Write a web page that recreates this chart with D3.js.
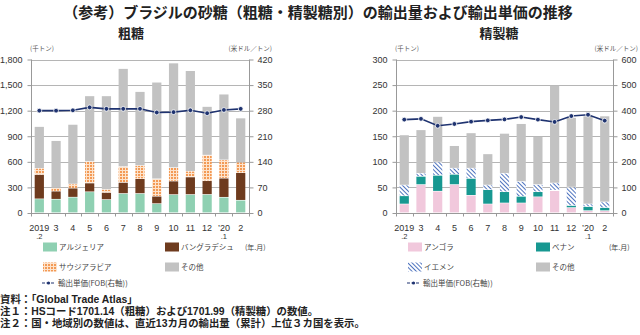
<!DOCTYPE html>
<html>
<head>
<meta charset="utf-8">
<script src="https://cdn.jsdelivr.net/npm/d3@7"></script>
<style>
  body { margin: 0; background: #fff; }
  svg text { font-family: "Liberation Sans", Arial, "Noto Sans CJK JP", sans-serif; fill: #333; }
  .jp { font-family: "Noto Sans CJK JP", sans-serif; }
  .note { font-family: "Liberation Sans", Arial, "Noto Sans CJK JP", sans-serif; }
</style>
</head>
<body>
<div id="chart"></div>
<script>
// months shown on the x axis
const months = ['2019', '3', '4', '5', '6', '7', '8', '9', '10', '11', '12', '\u201920', '2'];
const monthsSub = ['.2', '', '', '', '', '', '', '', '', '', '', '.1', ''];

// raw sugar (千トン)
const rawAlgeria    = [162, 158, 182, 245, 154, 225, 225, 106, 212, 213, 214, 181, 146];
const rawBangladesh = [285, 95, 106, 103, 83, 130, 174, 87, 159, 206, 161, 224, 323];
const rawSaudi      = [73, 39, 48, 252, 35, 186, 154, 204, 158, 67, 300, 214, 122];
const rawOther      = [490, 553, 699, 770, 1098, 1149, 867, 1133, 1226, 1179, 570, 771, 519];
const rawPrice      = [280, 280, 281, 289, 285, 285, 285, 275, 276, 281, 273, 282, 285];

// refined sugar (千トン)
const refAngola = [17, 55, 42, 55, 34, 17, 19, 19, 31, 43, 10, 4, 4];
const refBenin  = [16, 16, 31, 20, 33, 28, 22, 13, 10, 1, 4, 8, 6];
const refYemen  = [21, 6, 26, 12, 20, 9, 36, 29, 14, 14, 36, 5, 11];
const refOther  = [98, 85, 89, 44, 69, 61, 78, 113, 94, 191, 136, 172, 168];
const refPrice  = [365, 368, 341, 348, 357, 362, 366, 375, 365, 356, 379, 384, 361];

const leftTicks = [0, 300, 600, 900, 1200, 1500, 1800];
const rightTicks = [0, 70, 140, 210, 280, 350, 420];
const leftTicks2 = [0, 50, 100, 150, 200, 250, 300];
const rightTicks2 = [0, 100, 200, 300, 400, 500, 600];

const navy = '#1f3370';

const svg = d3.select('#chart').append('svg')
  .attr('width', 640)
  .attr('height', 335);

const defs = svg.append('defs');

// orange grid fill (サウジアラビア)
const pO = defs.append('pattern')
  .attr('id', 'pOrange')
  .attr('width', 3).attr('height', 3)
  .attr('patternUnits', 'userSpaceOnUse');
pO.append('rect').attr('width', 3).attr('height', 3).attr('fill', '#fde3cc');
pO.append('rect').attr('width', 2).attr('height', 2).attr('fill', '#f39a55');

// blue diagonal hatch (イエメン)
const pB = defs.append('pattern')
  .attr('id', 'pBlue')
  .attr('width', 3).attr('height', 3)
  .attr('patternUnits', 'userSpaceOnUse')
  .attr('patternTransform', 'rotate(-45)');
pB.append('rect').attr('width', 3).attr('height', 3).attr('fill', '#fff');
pB.append('line').attr('x1', 0.5).attr('y1', 0).attr('x2', 0.5).attr('y2', 3)
  .attr('stroke', '#4f74bf').attr('stroke-width', 1);

// main title
svg.append('text')
  .attr('class', 'jp')
  .attr('x', 318).attr('y', 18)
  .attr('text-anchor', 'middle')
  .style('font-size', '15px').style('font-weight', 'bold').style('fill', '#222')
  .text('（参考）ブラジルの砂糖（粗糖・精製糖別）の輸出量および輸出単価の推移');

function drawPanel(p) {
  const g = svg.append('g');
  const n = months.length;

  const x = d3.scaleBand()
    .domain(d3.range(n))
    .range([p.x0, p.x1])
    .paddingInner(0.45)
    .paddingOuter(0.22);
  const y = d3.scaleLinear().domain([0, p.yMax]).range([213, 59.5]);
  const y2 = d3.scaleLinear().domain([0, p.y2Max]).range([213, 59.5]);

  // subtitle
  g.append('text')
    .attr('class', 'jp')
    .attr('x', p.titleX).attr('y', 38)
    .attr('text-anchor', 'middle')
    .style('font-size', '13px').style('font-weight', 'bold').style('fill', '#222')
    .text(p.title);

  // unit labels
  g.append('text').attr('class', 'jp')
    .attr('x', p.x0 - 1).attr('y', 50.5)
    .style('font-size', '6.5px').style('fill', '#555')
    .text('(千トン)');
  g.append('text').attr('class', 'jp')
    .attr('x', p.unitREnd).attr('y', 50.5)
    .attr('text-anchor', 'end')
    .style('font-size', '6.5px').style('fill', '#555')
    .text('(米ドル／トン)');

  // gridlines
  g.append('g').selectAll('line')
    .data(p.lTicks.slice(1))
    .enter().append('line')
    .attr('x1', p.x0).attr('x2', p.x1)
    .attr('y1', d => Math.round(y(d)) + 0.5)
    .attr('y2', d => Math.round(y(d)) + 0.5)
    .attr('stroke', '#b5b5b5').attr('stroke-width', 1);

  // stacked bars
  const stackData = d3.range(n).map(i => {
    const o = { i: i };
    p.series.forEach(s => { o[s.key] = s.values[i]; });
    return o;
  });
  const stack = d3.stack().keys(p.series.map(s => s.key))(stackData);

  g.append('g').selectAll('g')
    .data(stack)
    .enter().append('g')
    .attr('fill', (d, k) => p.series[k].fill)
    .selectAll('rect')
    .data(d => d)
    .enter().append('rect')
    .attr('x', d => x(d.data.i))
    .attr('width', x.bandwidth())
    .attr('y', d => y(d[1]))
    .attr('height', d => Math.max(0, y(d[0]) - y(d[1]) - 0.6));

  // left axis
  const axL = g.append('g')
    .attr('transform', 'translate(' + (p.x0 + 0.5) + ',0)')
    .call(d3.axisLeft(y).tickValues(p.lTicks).tickFormat(p.lFormat).tickSize(4).tickPadding(5));
  // right axis
  const axR = g.append('g')
    .attr('transform', 'translate(' + (p.x1 + 0.5) + ',0)')
    .call(d3.axisRight(y2).tickValues(p.rTicks).tickFormat(d3.format('d')).tickSize(4).tickPadding(4));
  [axL, axR].forEach(a => {
    a.select('.domain').remove();
    a.append('line').attr('x1', 0).attr('x2', 0).attr('y1', 59.5).attr('y2', 213)
      .attr('stroke', '#999');
    a.selectAll('.tick line').attr('stroke', '#999');
    a.selectAll('.tick text')
      .style('font-size', '9px')
      .style('font-family', '"Liberation Sans", Arial, sans-serif')
      .style('fill', '#333');
  });

  // bottom axis line and category ticks
  g.append('line')
    .attr('x1', p.x0).attr('x2', p.x1 + 1)
    .attr('y1', 213.5).attr('y2', 213.5)
    .attr('stroke', '#999');
  g.append('g').selectAll('line')
    .data(d3.range(n + 1))
    .enter().append('line')
    .attr('x1', i => Math.round(p.x0 + i * (p.x1 - p.x0) / n) + 0.5)
    .attr('x2', i => Math.round(p.x0 + i * (p.x1 - p.x0) / n) + 0.5)
    .attr('y1', 213.5).attr('y2', 216.5)
    .attr('stroke', '#999');

  // x labels
  const xl = g.append('g').selectAll('g')
    .data(d3.range(n))
    .enter().append('g');
  xl.append('text')
    .attr('x', i => x(i) + x.bandwidth() / 2)
    .attr('y', 231)
    .attr('text-anchor', 'middle')
    .style('font-size', '9px')
    .text(i => months[i]);
  xl.append('text')
    .attr('x', i => x(i) + x.bandwidth() / 2)
    .attr('y', 239)
    .attr('text-anchor', 'middle')
    .style('font-size', '7.5px')
    .text(i => monthsSub[i]);

  // price line (right axis)
  const line = d3.line()
    .x((d, i) => x(i) + x.bandwidth() / 2)
    .y(d => y2(d));
  g.append('path')
    .datum(p.price)
    .attr('d', line)
    .attr('fill', 'none')
    .attr('stroke', navy)
    .attr('stroke-width', 1.6);
  g.append('g').selectAll('circle')
    .data(p.price)
    .enter().append('circle')
    .attr('cx', (d, i) => x(i) + x.bandwidth() / 2)
    .attr('cy', d => y2(d))
    .attr('r', 2.4)
    .attr('fill', navy)
    .attr('stroke', '#fff')
    .attr('stroke-width', 0.8);

  // legend
  const lg = g.append('g');
  const items = [
    { name: p.series[0].name, fill: p.series[0].fill, x: p.x0 + 12, y: 247 },
    { name: p.series[1].name, fill: p.series[1].fill, x: p.legX2, y: 247 },
    { name: p.series[2].name, fill: p.series[2].fill, x: p.x0 + 12, y: 267 },
    { name: p.series[3].name, fill: p.series[3].fill, x: p.legX2, y: 267 }
  ];
  items.forEach(it => {
    lg.append('rect')
      .attr('x', it.x).attr('y', it.y - 4.5)
      .attr('width', 14).attr('height', 9)
      .attr('fill', it.fill);
    lg.append('text').attr('class', 'jp')
      .attr('x', it.x + 16).attr('y', it.y + 3)
      .style('font-size', '7.5px').style('fill', '#444')
      .text(it.name);
  });
  lg.append('line')
    .attr('x1', p.x0 + 11).attr('x2', p.x0 + 24)
    .attr('y1', 283).attr('y2', 283)
    .attr('stroke', navy).attr('stroke-width', 1.2)
    .attr('stroke-dasharray', '3,1.5');
  lg.append('circle')
    .attr('cx', p.x0 + 17.5).attr('cy', 283).attr('r', 1.6)
    .attr('fill', navy);
  lg.append('text').attr('class', 'jp')
    .attr('x', p.x0 + 27).attr('y', 286)
    .style('font-size', '7.5px').style('fill', '#444')
    .text('輸出単価(FOB(右軸))');
  lg.append('text').attr('class', 'jp')
    .attr('x', p.x1 - 4).attr('y', 249.5)
    .style('font-size', '7px').style('fill', '#444')
    .text('(年.月)');
}

drawPanel({
  title: '粗糖', titleX: 131,
  x0: 31, x1: 249, unitREnd: 272,
  yMax: 1800, y2Max: 420,
  lTicks: leftTicks, rTicks: rightTicks, lFormat: d3.format(','),
  legX2: 165,
  price: rawPrice,
  series: [
    { key: 'a', name: 'アルジェリア', fill: '#8fd0b2', values: rawAlgeria },
    { key: 'b', name: 'バングラデシュ', fill: '#6e3b1e', values: rawBangladesh },
    { key: 'c', name: 'サウジアラビア', fill: 'url(#pOrange)', values: rawSaudi },
    { key: 'd', name: 'その他', fill: '#c2c2c2', values: rawOther }
  ]
});

drawPanel({
  title: '精製糖', titleX: 499,
  x0: 396, x1: 613, unitREnd: 638,
  yMax: 300, y2Max: 600,
  lTicks: leftTicks2, rTicks: rightTicks2, lFormat: d3.format('d'),
  legX2: 536,
  price: refPrice,
  series: [
    { key: 'a', name: 'アンゴラ', fill: '#f1c8dc', values: refAngola },
    { key: 'b', name: 'ベナン', fill: '#179891', values: refBenin },
    { key: 'c', name: 'イエメン', fill: 'url(#pBlue)', values: refYemen },
    { key: 'd', name: 'その他', fill: '#c2c2c2', values: refOther }
  ]
});

// source and notes
const notes = [
  '資料：「Global Trade Atlas」',
  '注１：HSコード1701.14（粗糖）および1701.99（精製糖）の数値。',
  '注２：国・地域別の数値は、直近13カ月の輸出量（累計）上位３カ国を表示。'
];
svg.append('g').selectAll('text')
  .data(notes)
  .enter().append('text')
  .attr('class', 'note')
  .attr('x', 0)
  .attr('y', (d, i) => 303 + i * 11.9)
  .style('font-size', '10.4px')
  .style('font-weight', 'bold')
  .style('fill', '#222')
  .text(d => d);
</script>
</body>
</html>
